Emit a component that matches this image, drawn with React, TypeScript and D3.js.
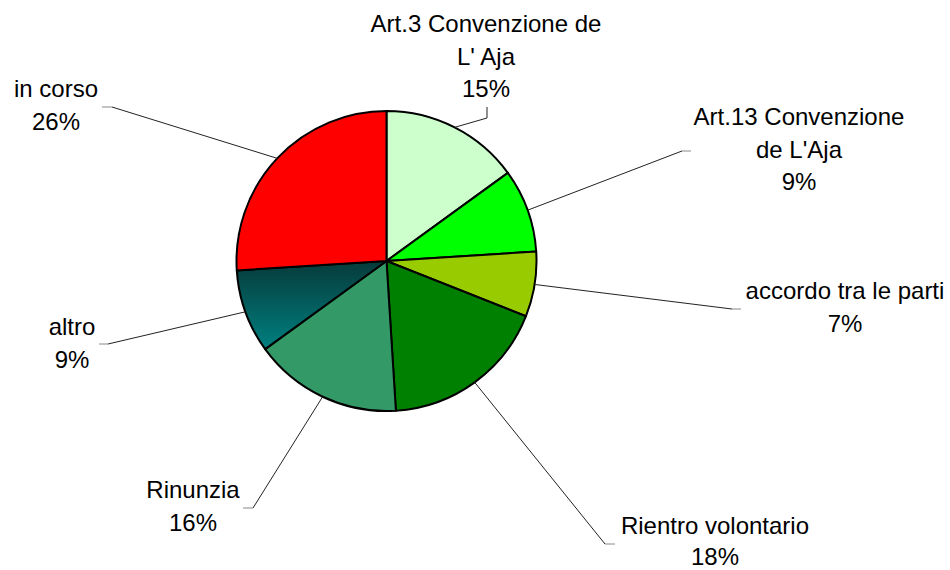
import React from "react";
import * as d3 from "d3";

const categories = [
  "Art.3 Convenzione de L' Aja",
  "Art.13 Convenzione de L'Aja",
  "accordo tra le parti",
  "Rientro volontario",
  "Rinunzia",
  "altro",
  "in corso",
];
const values = [15, 9, 7, 18, 16, 9, 26];
const labelLines = [
  ["Art.3 Convenzione de", "L' Aja"],
  ["Art.13 Convenzione", "de L'Aja"],
  ["accordo tra le parti"],
  ["Rientro volontario"],
  ["Rinunzia"],
  ["altro"],
  ["in corso"],
];

const colors = ["#CCFFCC", "#00FF00", "#99CC00", "#008000", "#339966", "url(#altroGrad)", "#FF0000"];

// label layout: text center x, first baseline y, leader end (x,y), tick end x / y
const layout = [
  { tx: 486, ty: 32, ex: 487, ey: 118, kx: 487, ky: 107 },
  { tx: 799, ty: 125, ex: 682, ey: 151, kx: 691, ky: 151 },
  { tx: 845, ty: 299, ex: 732, ey: 309, kx: 741, ky: 309 },
  { tx: 715, ty: 534, ex: 605, ey: 544, kx: 615, ky: 544 },
  { tx: 193, ty: 498, ex: 253, ey: 508, kx: 243, ky: 508 },
  { tx: 72, ty: 335, ex: 108, ey: 344, kx: 99, ky: 344 },
  { tx: 56, ty: 97, ex: 112, ey: 107, kx: 102, ky: 107 },
];

export default function App() {
  const W = 950, H = 570;
  const cx = 386.5, cy = 261, r = 150;
  const total = d3.sum(values);
  const pie = d3.pie<number>().sort(null).value((d) => d)(values);
  const arc = d3.arc<d3.PieArcDatum<number>>().innerRadius(0).outerRadius(r);
  return (
    <svg width={W} height={H} style={{ position: "absolute", left: 0, top: 0, background: "#fff" }}
      fontFamily="'Liberation Sans', Arial, sans-serif">
      <defs>
        <linearGradient id="altroGrad" x1="0" y1="0" x2="0" y2="1">
          <stop offset="0%" stopColor="#073a3a" />
          <stop offset="100%" stopColor="#008080" />
        </linearGradient>
      </defs>
      <g transform={`translate(${cx},${cy})`}>
        {pie.map((p, i) => (
          <path key={i} d={arc(p) || ""} fill={colors[i]} stroke="#000" strokeWidth={2} strokeLinejoin="round" />
        ))}
      </g>
      {pie.map((p, i) => {
        const a = (p.startAngle + p.endAngle) / 2;
        const sx = cx + r * Math.sin(a);
        const sy = cy - r * Math.cos(a);
        const L = layout[i];
        const lineH = i === 3 ? 31 : 32.5;
        const lines = [...labelLines[i], `${Math.round((values[i] / total) * 100)}%`];
        return (
          <g key={categories[i]}>
            <line x1={sx} y1={sy} x2={L.ex} y2={L.ey} stroke="#222" strokeWidth={1} />
            <line x1={L.ex} y1={L.ey} x2={L.kx} y2={L.ky} stroke={i === 0 ? "#222" : "#888"} strokeWidth={1} />
            <text textAnchor="middle" fontSize={24} fill="#000">
              {lines.map((t, j) => (
                <tspan key={j} x={L.tx} y={L.ty + j * lineH}>{t}</tspan>
              ))}
            </text>
          </g>
        );
      })}
    </svg>
  );
}
